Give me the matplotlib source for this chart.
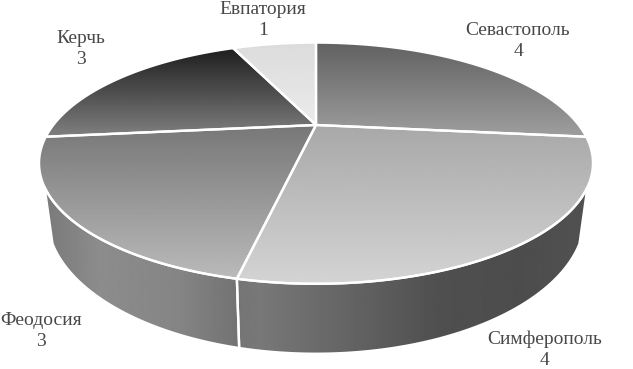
import numpy as np
import matplotlib
matplotlib.use("Agg")
import matplotlib.pyplot as plt
from matplotlib.patches import Polygon

# chart data
cities = ["Севастополь", "Симферополь", "Феодосия", "Керчь", "Евпатория"]
counts = [4, 4, 3, 3, 1]

# label centres (px), same order as cities
label_x = [518, 545, 41, 81, 263]
label_y = [41, 350, 331, 49, 20]

# gray levels of the top of each slice: (top of slice, bottom of slice)
top_shades = [(0.38, 0.62), (0.66, 0.83), (0.47, 0.73), (0.12, 0.50), (0.86, 0.92)]

# side wall gray levels going left to right (x px, gray)
wall_x = [40, 100, 180, 237, 240, 260, 340, 440, 520, 595]
wall_gray = [0.47, 0.55, 0.52, 0.45, 0.46, 0.47, 0.40, 0.31, 0.30, 0.32]

# perspective of the pie, fitted on the picture
K = 0.3167
WALL_FROM, WALL_TO = 119, 241  # visible part of the wall (deg clockwise from top)


def rim(theta, cy, a, b):
    # point on a perspective circle, theta in deg clockwise from the top
    t = np.radians(theta)
    w = 1 + K * np.cos(t)
    return 316 + a * np.sin(t) / w, cy - b * np.cos(t) / w


def top_rim(theta):
    return rim(theta, 125, 262.7, 108.5)


def bottom_rim(theta):
    return rim(theta, 173, 255, 123.5)


def paint(ax, pts, grad, extent):
    # fill a polygon with a gradient image and a white outline
    patch = Polygon(pts, closed=True, facecolor="none", edgecolor="none")
    ax.add_patch(patch)
    im = ax.imshow(grad, cmap="gray", vmin=0, vmax=1, extent=extent,
                   aspect="auto", interpolation="bilinear", zorder=1)
    im.set_clip_path(patch)
    ax.add_patch(Polygon(pts, closed=True, facecolor="none", edgecolor="white",
                         linewidth=1.7, zorder=3, joinstyle="round"))


fig = plt.figure(figsize=(6.33, 3.69), dpi=100)
ax = fig.add_axes([0, 0, 1, 1])

angles = np.concatenate([[0], np.cumsum(counts) / np.sum(counts) * 360])

# side wall first
xs = np.arange(30, 601)
wall_grad = np.interp(xs, wall_x, wall_gray)[None, :]
for start, stop in zip(angles[:-1], angles[1:]):
    a0, a1 = max(start, WALL_FROM), min(stop, WALL_TO)
    if a0 >= a1:
        continue
    th = np.linspace(a0, a1, 120)
    tx, ty = top_rim(th)
    bx, by = bottom_rim(th)
    pts = np.column_stack([np.r_[tx, bx[::-1]], np.r_[ty, by[::-1]]])
    paint(ax, pts, wall_grad, (30, 600, 369, 0))

# top surface
for start, stop, shade in zip(angles[:-1], angles[1:], top_shades):
    th = np.linspace(start, stop, 200)
    tx, ty = top_rim(th)
    pts = np.column_stack([np.r_[316, tx], np.r_[125, ty]])
    y0, y1 = pts[:, 1].min(), pts[:, 1].max()
    grad = np.linspace(shade[0], shade[1], 100)[:, None]
    paint(ax, pts, grad, (30, 600, y1, y0))

for name, n, x, y in zip(cities, counts, label_x, label_y):
    ax.text(x, y, f"{name}\n{n}", ha="center", va="center", color="#484848",
            family="Liberation Serif", fontsize=14, linespacing=1.28, zorder=4)

ax.set_xlim(0, 633)
ax.set_ylim(369, 0)
ax.axis("off")
fig.savefig("out.png", dpi=100, facecolor="white")
